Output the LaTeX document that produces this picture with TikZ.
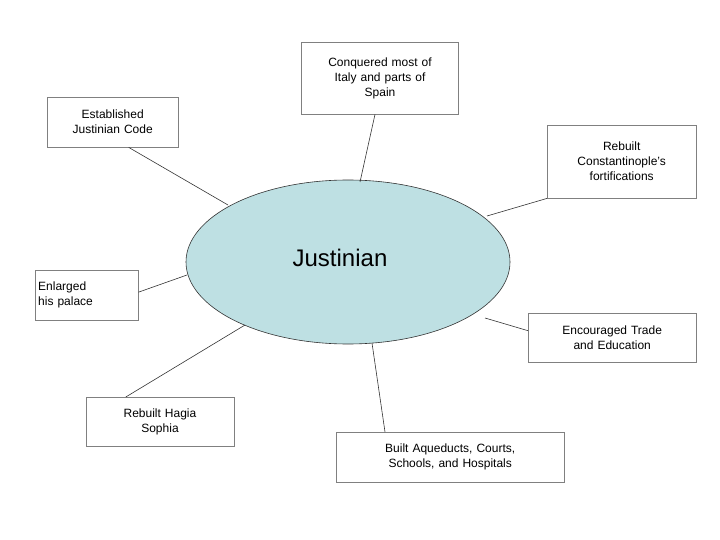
\documentclass[tikz,border=0pt]{standalone}
\usepackage{fontspec}
\setmainfont{Liberation Sans}
\usetikzlibrary{shapes.geometric}
\definecolor{ell}{HTML}{BEE0E3}
\definecolor{bord}{HTML}{808080}
\tikzset{box/.style={draw=bord,fill=white,font=\fontsize{12}{15}\selectfont,align=center,inner sep=2pt,anchor=north west},
ln/.style={draw=black!80,line width=0.6pt}}
\begin{document}
\begin{tikzpicture}[x=1pt,y=1pt]
\useasboundingbox (0,0) rectangle (720,-540);
\node[draw=black!80,fill=ell,ellipse,minimum width=324,minimum height=164,line width=0.6pt] (E) at (348,-262) {};
\node[font=\fontsize{24}{28}\selectfont] (J) at (340,-258) {Justinian};
\node[box,minimum width=131,minimum height=50,text width=127] (b1) at (47,-97) {Established\\Justinian Code};
\node[box,minimum width=157,minimum height=72,text width=153,anchor=north] (b2) at (380,-42) {Conquered most of\\Italy and parts of\\Spain};
\node[box,minimum width=149,minimum height=73,text width=145] (b3) at (547,-125) {Rebuilt\\Constantinople’s\\fortifications};
\node[box,minimum width=103,minimum height=50,text width=97,align=left] (b4) at (35,-270) {Enlarged\\his palace};
\node[box,minimum width=168,minimum height=49,text width=164] (b5) at (528,-313) {Encouraged Trade\\and Education};
\node[box,minimum width=148,minimum height=49,text width=144,anchor=north] (b6) at (160,-397) {Rebuilt Hagia\\Sophia};
\node[box,minimum width=228,minimum height=50,text width=224] (b7) at (336,-432) {Built Aqueducts, Courts,\\Schools, and Hospitals};
\coordinate (e1) at (228,-205);
\coordinate (e2) at (360,-182);
\coordinate (e3) at (487,-216);
\coordinate (e4) at (187,-275);
\coordinate (e5) at (485,-318);
\coordinate (e6) at (245,-325);
\coordinate (e7) at (372,-343);
\draw[ln] ([xshift=16pt]b1.south) -- (e1);
\draw[ln] ([xshift=-5pt]b2.south) -- (e2);
\draw[ln] (b3.south west) -- (e3);
\draw[ln] ([yshift=3pt]b4.east) -- (e4);
\draw[ln] ([yshift=7pt]b5.west) -- (e5);
\draw[ln] ([xshift=40pt]b6.north west) -- (e6);
\draw[ln] ([xshift=49pt]b7.north west) -- (e7);
\end{tikzpicture}
\end{document}
